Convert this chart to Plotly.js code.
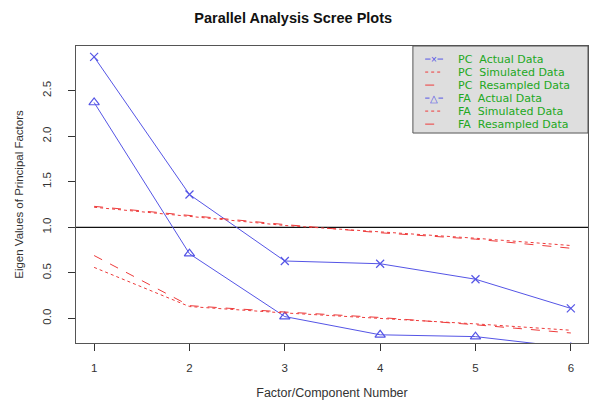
<!DOCTYPE html>
<html><head><meta charset="utf-8">
<script src="https://cdn.plot.ly/plotly-3.0.1.min.js"></script>
<style>html,body{margin:0;padding:0;background:#fff}</style>
</head><body>
<div id="chart" style="width:590px;height:401px"></div>
<script>
const factors = [1, 2, 3, 4, 5, 6];
const pcActual = [2.87, 1.36, 0.63, 0.60, 0.43, 0.11];
const pcSimulated = [1.22, 1.12, 1.02, 0.95, 0.88, 0.80];
const pcResampled = [1.23, 1.13, 1.03, 0.94, 0.87, 0.77];
const faActual = [2.37, 0.71, 0.02, -0.18, -0.20, -0.32];
const faSimulated = [0.56, 0.13, 0.06, 0.00, -0.06, -0.13];
const faResampled = [0.69, 0.14, 0.07, 0.01, -0.07, -0.16];
const legendNames = ["PC  Actual Data", "PC  Simulated Data", "PC  Resampled Data",
                     "FA  Actual Data", "FA  Simulated Data", "FA  Resampled Data"];
const yTicks = [0, 0.5, 1, 1.5, 2, 2.5];

const blue = '#5555e6', red = '#ee3b3b';
const styles = [
  {color: blue, dash: 'solid', glyph: '×'},
  {color: red, dash: 'dot', glyph: ''},
  {color: red, dash: 'dash', glyph: ''},
  {color: blue, dash: 'solid', glyph: '△'},
  {color: red, dash: 'dot', glyph: ''},
  {color: red, dash: 'dash', glyph: ''}
];
const series = [pcActual, pcSimulated, pcResampled, faActual, faSimulated, faResampled];
const symbols = ['x-thin-open', null, null, 'triangle-up-open', null, null];

const traces = series.map((vals, i) => {
  const t = {x: factors, y: vals, name: legendNames[i], mode: symbols[i] ? 'lines+markers' : 'lines',
             line: {color: styles[i].color, width: 1, dash: styles[i].dash}, showlegend: false};
  if (symbols[i]) t.marker = {symbol: symbols[i], size: symbols[i] === 'x-thin-open' ? 8 : 9,
                              color: styles[i].color, line: {color: styles[i].color, width: 1.2}};
  return t;
});

// custom R-style legend box (paper coordinates)
const legX0 = 0.658, legY0 = 0.707, rowTop = 0.956, rowStep = 0.0438;
const sampleX0 = 0.682, sampleX1 = 0.717, textX = 0.744;
const shapes = [
  {type: 'line', xref: 'paper', x0: 0, x1: 1, yref: 'y', y0: 1, y1: 1, line: {color: '#111', width: 1.2}, layer: 'below'},
  {type: 'rect', xref: 'paper', yref: 'paper', x0: legX0, x1: 1, y0: legY0, y1: 1,
   fillcolor: '#dedede', line: {color: '#555', width: 1}}
];
const annotations = [];
legendNames.forEach((nm, i) => {
  const yy = rowTop - i * rowStep;
  shapes.push({type: 'line', xref: 'paper', yref: 'paper', x0: sampleX0, x1: sampleX1, y0: yy, y1: yy,
               line: {color: styles[i].color, width: 1, dash: styles[i].dash}});
  annotations.push({xref: 'paper', yref: 'paper', x: textX, y: yy, xanchor: 'left', yanchor: 'middle',
                    text: nm, showarrow: false, borderpad: 0,
                    font: {family: 'DejaVu Sans, sans-serif', size: 11, color: '#22a822'}});
  if (styles[i].glyph) {
    annotations.push({xref: 'paper', yref: 'paper', x: (sampleX0 + sampleX1) / 2, y: yy, xanchor: 'center', yanchor: 'middle',
                      text: styles[i].glyph, showarrow: false, borderpad: 0, font: {size: 10, color: styles[i].color}, bgcolor: '#dedede'});
  }
});

const layout = {
  width: 590, height: 401,
  margin: {l: 76, r: 2, t: 46, b: 58},
  paper_bgcolor: '#fff', plot_bgcolor: '#fff',
  font: {family: 'Liberation Sans, Arial, sans-serif', size: 11, color: '#333'},
  title: {text: '<b>Parallel Analysis Scree Plots</b>', x: 0.497, xanchor: 'center', y: 0.955, yanchor: 'middle',
          font: {size: 14.5, color: '#111'}},
  xaxis: {range: [0.81, 6.18], tickvals: factors, ticktext: factors.map(String),
          showgrid: false, zeroline: false, showline: true, mirror: true, linecolor: '#555', linewidth: 1,
          ticks: 'outside', ticklen: 7, tickcolor: '#333', ticklabelstandoff: 7, tickfont: {size: 11.5},
          title: {text: 'Factor/Component Number', standoff: 15, font: {size: 12.5, color: '#333'}}},
  yaxis: {range: [-0.27, 2.99], tickvals: yTicks, tickformat: '.1f', tickangle: -90,
          showgrid: false, zeroline: false, showline: true, mirror: true, linecolor: '#555', linewidth: 1,
          ticks: 'outside', ticklen: 7, tickcolor: '#333', ticklabelstandoff: 12, tickfont: {size: 11.5},
          title: {text: 'Eigen Values of Principal Factors', standoff: 15, font: {size: 11.5, color: '#333'}}},
  shapes: shapes,
  annotations: annotations,
  showlegend: false
};
Plotly.newPlot('chart', traces, layout, {displayModeBar: false, staticPlot: true});
</script>
</body></html>
